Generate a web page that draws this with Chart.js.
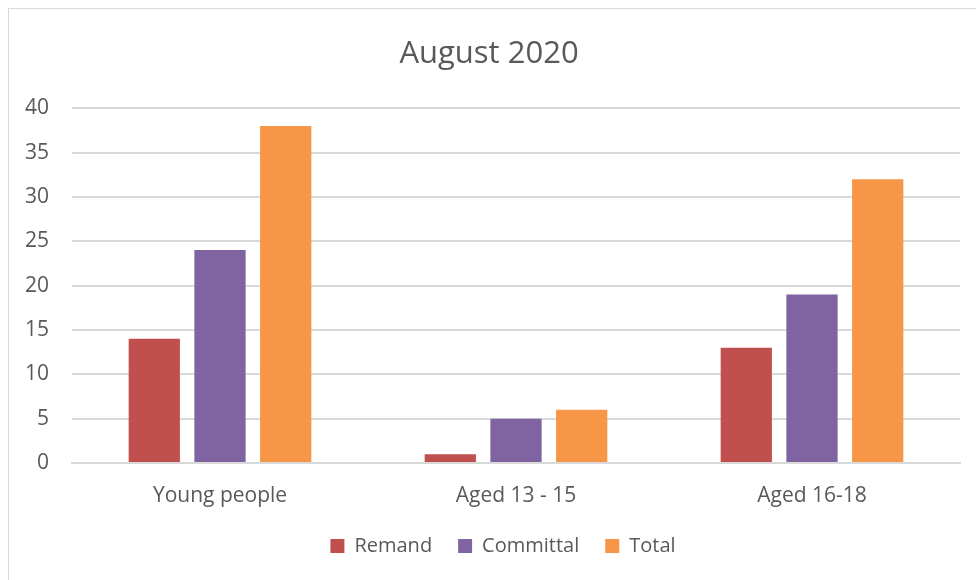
<!DOCTYPE html>
<html>
<head>
<meta charset="utf-8">
<script src="https://cdn.jsdelivr.net/npm/chart.js@4.4.0/dist/chart.umd.min.js"></script>
<style>
  html, body { margin: 0; padding: 0; background: #fff; overflow: hidden; }
  #wrap { position: relative; width: 976px; height: 580px; }
  #frame { position: absolute; left: 8px; top: 8px; width: 1200px; height: 800px; border: 1px solid #d9d9d9; box-sizing: border-box; }
  canvas { position: absolute; left: 0; top: 0; }
</style>
</head>
<body>
<div id="wrap">
  <div id="frame"></div>
  <canvas id="chart" width="976" height="580"></canvas>
</div>
<script>
// Data
const categories = ['Young people', 'Aged 13 - 15', 'Aged 16-18'];
const remand = [14, 1, 13];
const committal = [24, 5, 19];
const total = [38, 6, 32];
const yTicks = [0, 5, 10, 15, 20, 25, 30, 35, 40];

const FONT = '"Open Sans", sans-serif';
const TEXT = '#595959';

// The original frame runs past the right edge, so title and legend sit a bit right of centre
const shiftBlocks = {
    id: 'shiftBlocks',
    afterLayout(chart) {
        if (chart.titleBlock) { chart.titleBlock.left += 5; chart.titleBlock.right += 5; }
        if (chart.legend) { chart.legend.left += 19; chart.legend.right += 19; }
    }
};

const ctx = document.getElementById('chart').getContext('2d');

new Chart(ctx, {
    type: 'bar',
    data: {
        labels: categories,
        datasets: [
            { label: 'Remand', data: remand, backgroundColor: '#C0504D' },
            { label: 'Committal', data: committal, backgroundColor: '#8064A2' },
            { label: 'Total', data: total, backgroundColor: '#F79646' }
        ]
    },
    options: {
        responsive: false,
        animation: false,
        devicePixelRatio: 1,
        categoryPercentage: 0.666,
        barPercentage: 0.78,
        layout: { padding: { left: 8, right: 16, top: 8, bottom: 14 } },
        plugins: {
            title: {
                display: true,
                text: 'August 2020',
                color: TEXT,
                font: { family: FONT, size: 31, weight: 'normal' },
                padding: { top: 28, bottom: 35 }
            },
            legend: {
                position: 'bottom',
                labels: {
                    color: TEXT,
                    font: { family: FONT, size: 20 },
                    boxWidth: 14,
                    boxHeight: 14,
                    padding: 26
                }
            },
            tooltip: { enabled: false }
        },
        scales: {
            x: {
                grid: { display: false },
                border: { color: '#d9d9d9', width: 2 },
                ticks: { color: TEXT, font: { family: FONT, size: 21 }, padding: 12 },
                afterFit: (scale) => { scale.height = 47; }
            },
            y: {
                min: 0,
                max: 40,
                afterBuildTicks: (scale) => { scale.ticks = yTicks.map(v => ({ value: v })); },
                grid: { color: '#d9d9d9', lineWidth: 2, drawTicks: false },
                border: { display: false },
                ticks: { color: TEXT, font: { family: FONT, size: 21 }, padding: 23 },
                afterFit: (scale) => { scale.width = 64; }
            }
        }
    },
    plugins: [shiftBlocks]
});
</script>
</body>
</html>
